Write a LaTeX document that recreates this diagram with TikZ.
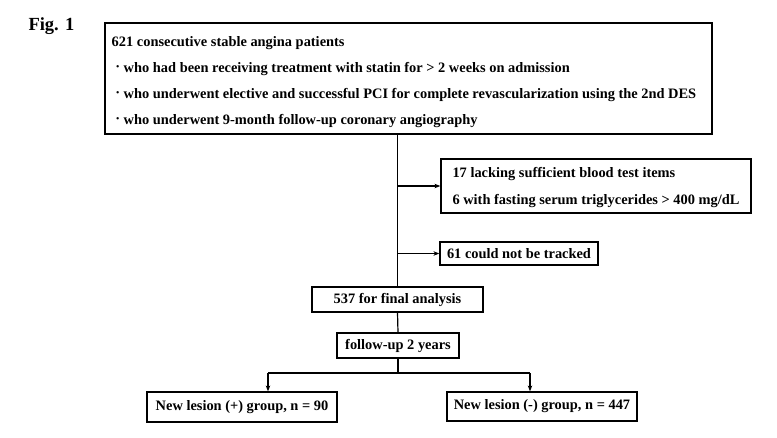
\documentclass[tikz,border=0pt]{standalone}
\usepackage{fontspec}
\setmainfont{Liberation Serif}
\usetikzlibrary{arrows.meta}
\newcommand{\bul}{\makebox[12pt][c]{\raisebox{0.15ex}{·}}}
\begin{document}
\begin{tikzpicture}[x=1pt,y=-1pt,
  box/.style={draw,line width=1.2pt,inner sep=0pt,font=\fontsize{14.4}{17}\selectfont\bfseries},
  conn/.style={line width=1.2pt},
  arr/.style={line width=1.2pt,-{Stealth[length=6pt,width=4.5pt]}}]
\useasboundingbox[fill=white] (0,0) rectangle (777,437);
\node[anchor=base west,font=\fontsize{18.5}{22}\selectfont\bfseries] (fig) at (25,30) {Fig. 1};
\node[box,minimum width=607,minimum height=111,align=left,
      font=\fontsize{14.4}{26}\selectfont\bfseries] (main) at (408.5,78.5)
  {\rule{0pt}{18pt}621 consecutive stable angina patients\\
   \bul who had been receiving treatment with statin for \textgreater{} 2 weeks on admission\\
   \bul who underwent elective and successful PCI for complete revascularization using the 2nd DES\kern9pt\\
   \bul who underwent 9-month follow-up coronary angiography};
\node[box,minimum width=310,minimum height=54,align=left,
      font=\fontsize{14.4}{27}\selectfont\bfseries] (b2) at (596,186)
  {\rule{0pt}{13pt}17 lacking sufficient blood test items\\
   6 with fasting serum triglycerides \textgreater{} 400 mg/dL};
\node[box,minimum width=158,minimum height=23] (b3) at (519,253.5) {61 could not be tracked};
\node[box,minimum width=171,minimum height=25] (f537) at (397.5,299.5) {537 for final analysis};
\node[box,minimum width=122,minimum height=25] (fu) at (398,345.5) {follow-up 2 years};
\node[box,minimum width=190,minimum height=30] (lp) at (242,407) {New lesion (+) group, n = 90};
\node[box,minimum width=190,minimum height=29] (rn) at (542,406.5) {New lesion (-) group, n = 447};
\coordinate (la) at (268,373);
\coordinate (ra) at (530,373);
\draw[conn] (f537.north |- main.south) -- (f537.north);
\draw[arr] (f537.north |- b2.west) -- (b2.west);
\draw[arr] (f537.north |- b3.west) -- (b3.west);
\draw[conn] (f537.south) -- (fu.north);
\draw[conn] (fu.south) -- (fu.south |- la);
\draw[conn] (la) -- (ra);
\draw[arr] (la) -- (la |- lp.north);
\draw[arr] (ra) -- (ra |- rn.north);
\end{tikzpicture}
\end{document}
